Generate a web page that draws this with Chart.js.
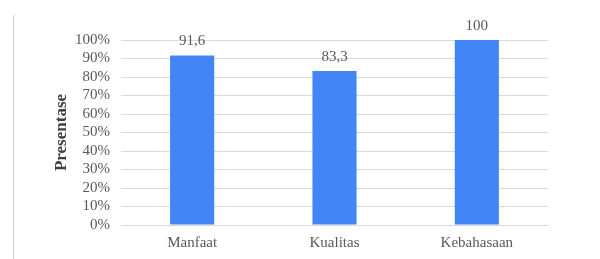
<!DOCTYPE html>
<html><head><meta charset="utf-8">
<script src="https://cdn.jsdelivr.net/npm/chart.js@4/dist/chart.umd.min.js"></script>
<style>
html,body{margin:0;padding:0;background:#fff;}
#wrap{position:relative;width:600px;height:259px;}
#vline{position:absolute;left:13px;top:15px;width:1px;height:244px;background:#d0d0d0;}
canvas{position:absolute;left:0;top:0;}
.pre{position:absolute;left:-999px;font-family:"Liberation Serif";}
</style></head>
<body>
<div id="wrap"><div id="vline"></div><span class="pre">Aa</span><span class="pre" style="font-weight:bold">Aa</span><canvas id="c" width="600" height="259"></canvas></div>
<script>
const categories = ['Manfaat', 'Kualitas', 'Kebahasaan'];
const values = [91.6, 83.3, 100];
const yTickValues = [0,10,20,30,40,50,60,70,80,90,100];

const fontFam = "'Liberation Serif', 'Times New Roman', 'DejaVu Serif', serif";
const labelPlugin = {
  id: 'valueLabels',
  afterDatasetsDraw(chart) {
    const ctx = chart.ctx;
    const meta = chart.getDatasetMeta(0);
    ctx.save();
    ctx.font = "15px " + fontFam;
    ctx.fillStyle = '#595959';
    ctx.textAlign = 'center';
    ctx.textBaseline = 'middle';
    meta.data.forEach((el, i) => {
      const txt = String(values[i]).replace('.', ',');
      ctx.fillText(txt, el.x, el.y - 14);
    });
    ctx.restore();
  }
};

function draw() {
new Chart(document.getElementById('c'), {
  type: 'bar',
  data: {
    labels: categories,
    datasets: [{ data: values, backgroundColor: '#4285f4', borderWidth: 0,
      categoryPercentage: 1, barPercentage: 0.31 }]
  },
  options: {
    responsive: false,
    animation: false,
    devicePixelRatio: 1,
    layout: { padding: { left: 51, right: 52, top: 40, bottom: 0 } },
    plugins: { legend: { display: false }, tooltip: { enabled: false } },
    scales: {
      x: {
        grid: { display: false, drawTicks: false },
        border: { display: true, color: '#d9d9d9', width: 1 },
        ticks: { color: '#595959', font: { family: fontFam, size: 15 }, padding: 9 },
        afterFit(s) { s.height = 34; }
      },
      y: {
        min: 0, max: 100,
        afterBuildTicks(s) { s.ticks = yTickValues.map(v => ({ value: v })); },
        grid: { color: '#d9d9d9', drawTicks: false },
        border: { display: false },
        ticks: { color: '#595959', font: { family: fontFam, size: 15 }, padding: 11,
          autoSkip: false, callback: v => v + '%' },
        title: { display: true, text: 'Presentase', color: '#404040',
          font: { family: fontFam, size: 17, weight: 'bold' }, padding: 0 },
        afterFit(s) { s.width = 70; }
      }
    }
  },
  plugins: [labelPlugin]
});
}
if (document.fonts && document.fonts.load) {
  Promise.all([document.fonts.load("15px 'Liberation Serif'"), document.fonts.load("bold 17px 'Liberation Serif'")]).then(draw, draw);
} else draw();
</script>
</body></html>
